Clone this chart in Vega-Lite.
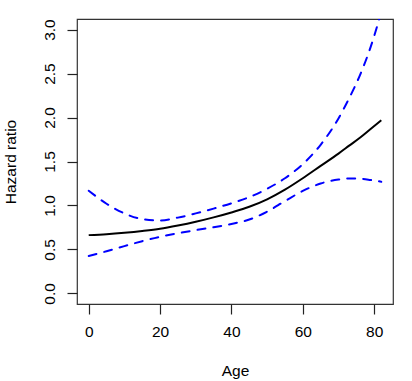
{
  "$schema": "https://vega.github.io/schema/vega-lite/v6.json",
  "autosize": "none",
  "width": 316,
  "height": 285,
  "padding": {"left": 77, "top": 19, "right": 19, "bottom": 77},
  "background": "white",
  "config": {
    "view": {"stroke": "#333333", "strokeWidth": 1.2},
    "font": "Liberation Sans",
    "axis": {
      "labelFont": "Liberation Sans",
      "titleFont": "Liberation Sans",
      "labelFontSize": 15.5,
      "titleFontSize": 15.5,
      "titleFontWeight": "normal",
      "labelColor": "black",
      "titleColor": "black",
      "tickColor": "#222222",
      "tickSize": 10,
      "tickWidth": 1.2,
      "domain": false,
      "grid": false
    }
  },
  "data": {
    "values": [
      {"age": 0, "est": 0.663, "lower": 0.426, "upper": 1.167},
      {"age": 5, "est": 0.674, "lower": 0.48, "upper": 1.02},
      {"age": 10, "est": 0.690, "lower": 0.538, "upper": 0.91},
      {"age": 15, "est": 0.710, "lower": 0.594, "upper": 0.845},
      {"age": 20, "est": 0.735, "lower": 0.644, "upper": 0.83},
      {"age": 25, "est": 0.772, "lower": 0.684, "upper": 0.862},
      {"age": 30, "est": 0.815, "lower": 0.72, "upper": 0.91},
      {"age": 35, "est": 0.865, "lower": 0.752, "upper": 0.964},
      {"age": 40, "est": 0.921, "lower": 0.79, "upper": 1.025},
      {"age": 45, "est": 0.985, "lower": 0.84, "upper": 1.095},
      {"age": 50, "est": 1.07, "lower": 0.93, "upper": 1.19},
      {"age": 55, "est": 1.18, "lower": 1.05, "upper": 1.31},
      {"age": 60, "est": 1.31, "lower": 1.165, "upper": 1.47},
      {"age": 65, "est": 1.45, "lower": 1.25, "upper": 1.69},
      {"age": 70, "est": 1.59, "lower": 1.295, "upper": 1.99},
      {"age": 73, "est": 1.68, "lower": 1.308, "upper": 2.22},
      {"age": 76, "est": 1.77, "lower": 1.305, "upper": 2.48},
      {"age": 79, "est": 1.87, "lower": 1.29, "upper": 2.8},
      {"age": 82, "est": 1.97, "lower": 1.27, "upper": 3.2}
    ]
  },
  "encoding": {
    "x": {
      "field": "age",
      "type": "quantitative",
      "scale": {"domain": [-3.28, 85.28], "nice": false, "zero": false},
      "axis": {"values": [0, 20, 40, 60, 80], "title": "Age", "labelPadding": 10, "titlePadding": 24}
    }
  },
  "layer": [
    {
      "mark": {"type": "line", "color": "black", "strokeWidth": 2, "interpolate": "monotone", "clip": true},
      "encoding": {
        "y": {
          "field": "est",
          "type": "quantitative",
          "scale": {"domain": [-0.12, 3.12], "nice": false, "zero": false},
          "axis": {"values": [0, 0.5, 1, 1.5, 2, 2.5, 3], "format": ".1f", "labelAngle": -90, "title": "Hazard ratio", "labelPadding": 10, "titlePadding": 24}
        }
      }
    },
    {
      "mark": {"type": "line", "color": "#0000FF", "strokeWidth": 2, "strokeDash": [8, 8], "strokeCap": "round", "interpolate": "monotone", "clip": true},
      "encoding": {"y": {"field": "upper", "type": "quantitative"}}
    },
    {
      "mark": {"type": "line", "color": "#0000FF", "strokeWidth": 2, "strokeDash": [8, 8], "strokeCap": "round", "interpolate": "monotone", "clip": true},
      "encoding": {"y": {"field": "lower", "type": "quantitative"}}
    }
  ]
}
